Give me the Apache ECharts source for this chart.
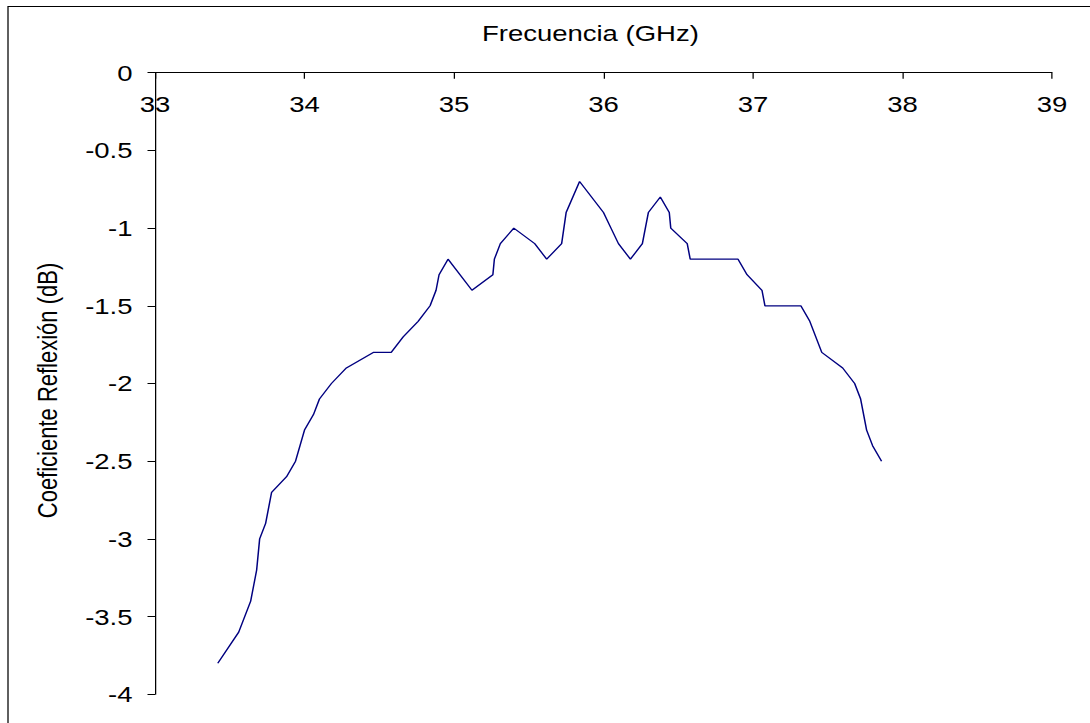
<!DOCTYPE html>
<html>
<head>
<meta charset="utf-8">
<title>Coeficiente de reflexión</title>
<script src="https://cdn.jsdelivr.net/npm/echarts@6.0.0/dist/echarts.min.js"></script>
<style>
  html, body { margin: 0; padding: 0; background: #fff; overflow: hidden; }
  /* the chart is laid out narrow and widened horizontally, as in the original sheet */
  #chart { width: 872px; height: 723px; transform: scaleX(1.25); transform-origin: 0 0; }
</style>
</head>
<body>
<div id="chart"></div>
<script>
// Frequency (GHz) and measured reflection coefficient (dB)
var freq = [33.42, 33.56, 33.64, 33.68, 33.70, 33.74, 33.78, 33.88, 33.94, 33.97,
            34.00, 34.06, 34.10, 34.18, 34.28, 34.46, 34.58, 34.66, 34.76, 34.84,
            34.88, 34.90, 34.96, 35.12, 35.26, 35.27, 35.31, 35.40, 35.54, 35.62,
            35.72, 35.75, 35.84, 36.00, 36.05, 36.10, 36.18, 36.26, 36.30, 36.38,
            36.44, 36.45, 36.56, 36.58, 36.90, 36.96, 37.06, 37.08, 37.32, 37.38,
            37.46, 37.60, 37.68, 37.72, 37.76, 37.80, 37.86];
var refl = [-3.8, -3.6, -3.4, -3.2, -3.0, -2.9, -2.7, -2.6, -2.5, -2.4,
            -2.3, -2.2, -2.1, -2.0, -1.9, -1.8, -1.8, -1.7, -1.6, -1.5,
            -1.4, -1.3, -1.2, -1.4, -1.3, -1.2, -1.1, -1.0, -1.1, -1.2,
            -1.1, -0.9, -0.7, -0.9, -1.0, -1.1, -1.2, -1.1, -0.9, -0.8,
            -0.9, -1.0, -1.1, -1.2, -1.2, -1.3, -1.4, -1.5, -1.5, -1.6,
            -1.8, -1.9, -2.0, -2.1, -2.3, -2.4, -2.5];

var xTitle = 'Frecuencia (GHz)';
var yTitle = 'Coeficiente Reflexión (dB)';

var font = 'Liberation Sans, Arial, sans-serif';
var points = freq.map(function (f, i) { return [f, refl[i]]; });

var chart = echarts.init(document.getElementById('chart'), null, { renderer: 'svg' });
chart.setOption({
  animation: false,
  backgroundColor: '#fff',
  grid: { left: 124, right: 30.4, top: 72.7, bottom: 28.7 },
  graphic: [{
    type: 'rect',
    shape: { x: 6.4, y: 6.5, width: 2000, height: 2000 },
    style: { fill: 'none', stroke: '#000', lineWidth: 1 },
    silent: true
  }],
  xAxis: {
    type: 'value',
    position: 'top',
    min: 33, max: 39, interval: 1,
    name: xTitle,
    nameLocation: 'middle',
    nameGap: 29,
    nameTextStyle: { color: '#000', fontSize: 22, fontFamily: font, padding: [0, 21, 0, 0] },
    axisLine: { show: true, onZero: false, lineStyle: { color: '#000', width: 1 } },
    axisTick: { show: true, inside: true, length: 6, lineStyle: { color: '#000', width: 1 } },
    axisLabel: { inside: true, margin: 20, color: '#000', fontSize: 22, fontFamily: font },
    splitLine: { show: false }
  },
  yAxis: {
    type: 'value',
    min: -4, max: 0, interval: 0.5,
    name: yTitle,
    nameLocation: 'middle',
    nameGap: 75,
    nameTextStyle: { color: '#000', fontSize: 22, fontFamily: font, padding: [0, 14, 0, 0] },
    axisLine: { show: true, onZero: false, lineStyle: { color: '#000', width: 1 } },
    axisTick: { show: true, length: 6, lineStyle: { color: '#000', width: 1 } },
    axisLabel: { margin: 18, color: '#000', fontSize: 22, fontFamily: font },
    splitLine: { show: false }
  },
  series: [{
    type: 'line',
    data: points,
    symbol: 'none',
    lineStyle: { color: '#000080', width: 1.2 }
  }]
});
</script>
</body>
</html>
